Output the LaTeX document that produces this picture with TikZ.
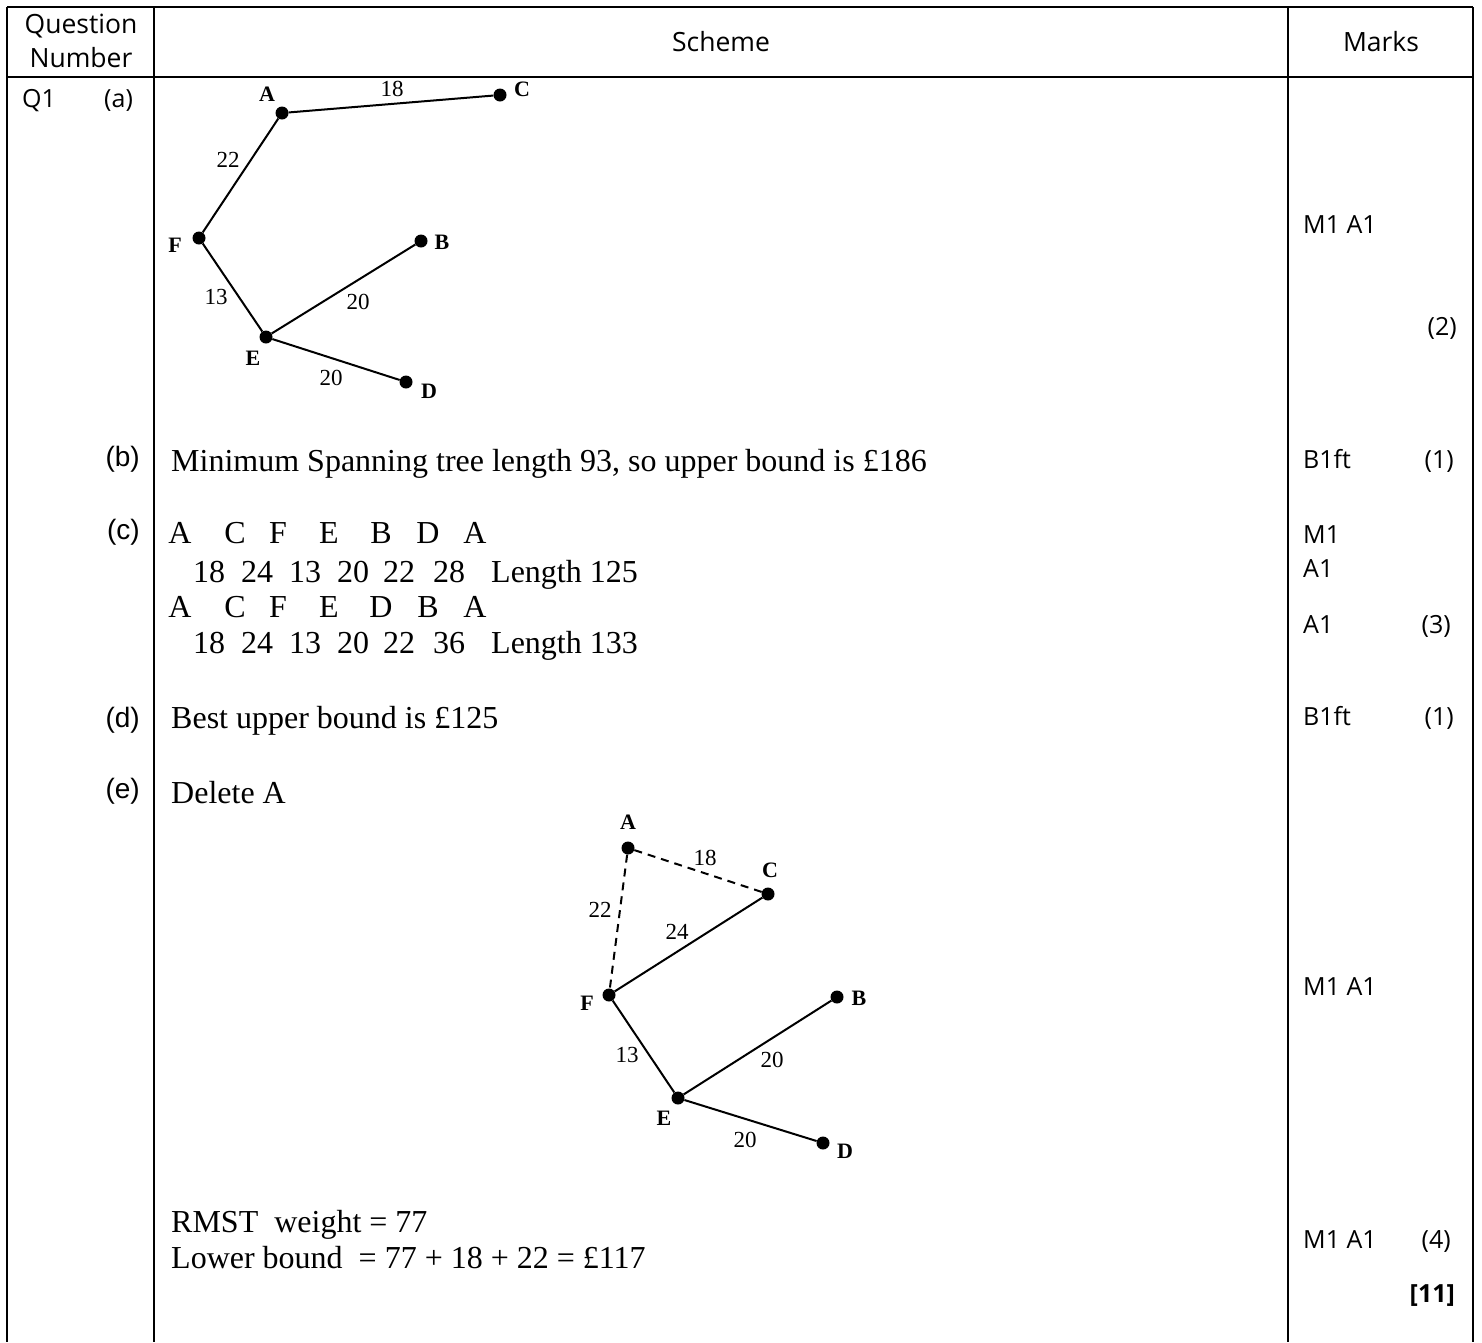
\documentclass[tikz,border=0pt]{standalone}
\usepackage{fontspec}
\setmainfont{Liberation Serif}
\newfontfamily\tahomaf{Open Sans}
\newfontfamily\arialf{Liberation Sans}
\usetikzlibrary{positioning}

\begin{document}
\begin{tikzpicture}[x=1pt, y=-1pt,
  rule/.style={line width=2.5pt},
  hdr/.style={font=\tahomaf\fontsize{26.5}{34}\selectfont, align=center, inner sep=0pt},
  mk/.style={font=\tahomaf\fontsize{25}{30}\selectfont, anchor=base west, inner sep=0pt},
  tot/.style={font=\tahomaf\fontsize{25}{30}\selectfont, anchor=base east, inner sep=0pt},
  part/.style={font=\arialf\fontsize{28}{30}\selectfont, anchor=base east, inner sep=0pt},
  txt/.style={font=\fontsize{32}{34}\selectfont, anchor=base west, inner sep=0pt},
  vtx/.style={circle, fill=black, inner sep=0pt, minimum size=13pt},
  vlab/.style={font=\bfseries\fontsize{22}{22}\selectfont, inner sep=0pt},
  wt/.style={font=\fontsize{23}{24}\selectfont, inner sep=0pt},
  edge/.style={line width=2pt},
]
  \useasboundingbox (0,0) rectangle (1482,1342);

  % table rules
  \draw[rule] (7,7) -- (1473,7);
  \draw[rule] (7,77) -- (1473,77);
  \draw[rule] (7,7) -- (7,1342);
  \draw[rule] (154,7) -- (154,1342);
  \draw[rule] (1288,7) -- (1288,1342);
  \draw[rule] (1473,7) -- (1473,1342);

  % header
  \node[hdr] (hq) at (81,41) {Question\\Number};
  \node[hdr] (hs) at (721,42) {Scheme};
  \node[hdr] (hm) at (1381,42) {Marks};

  % part labels
  \node[mk] (q1) at (22,107) {Q1};
  \node[mk] (pa) at (104,107) {(a)};
  \node[part] (pb) at (140,466) {(b)};
  \node[part] (pc) at (140,539) {(c)};
  \node[part] (pd) at (140,727) {(d)};
  \node[part] (pe) at (140,798) {(e)};

  % (a) minimum spanning tree
  \node[vtx] (A1) at (282,113) {};
  \node[vtx] (C1) at (500,95) {};
  \node[vtx] (F1) at (199,238) {};
  \node[vtx] (B1) at (421,241) {};
  \node[vtx] (E1) at (266,337) {};
  \node[vtx] (D1) at (406,382) {};
  \draw[edge] (A1) -- (C1) (A1) -- (F1) (F1) -- (E1) (E1) -- (B1) (E1) -- (D1);
  \node[vlab] (lA1) at (267,94) {A};
  \node[vlab] (lC1) at (522,89) {C};
  \node[vlab] (lF1) at (175,245) {F};
  \node[vlab] (lB1) at (442,242) {B};
  \node[vlab] (lE1) at (253,358) {E};
  \node[vlab] (lD1) at (429,391) {D};
  \node[wt] (w1ac) at (392,89) {18};
  \node[wt] (w1af) at (228,160) {22};
  \node[wt] (w1fe) at (216,297) {13};
  \node[wt] (w1eb) at (358,302) {20};
  \node[wt] (w1ed) at (331,378) {20};

  \node[mk] (m1) at (1303,233) {M1 A1};
  \node[tot] (t1) at (1457,335) {(2)};

  % (b)
  \node[txt] (sb) at (171,471) {Minimum Spanning tree length 93, so upper bound is \pounds186};
  \node[mk] (m2) at (1303,468) {B1ft};
  \node[tot] (t2) at (1454,468) {(1)};

  % (c) nearest neighbour tours
  \foreach \v/\xx [count=\i] in {A/180,C/235,F/278,E/329,B/381,D/428,A/475}
    \node[txt, anchor=base] (ta\i) at (\xx,543) {\v};
  \foreach \w/\xx [count=\i] in {18/209,24/257,13/305,20/353,22/399,28/449}
    \node[txt, anchor=base] (wa\i) at (\xx,582) {\w};
  \node[txt] (la) at (491,582) {Length 125};
  \foreach \v/\xx [count=\i] in {A/180,C/235,F/278,E/329,D/381,B/428,A/475}
    \node[txt, anchor=base] (tb\i) at (\xx,617) {\v};
  \foreach \w/\xx [count=\i] in {18/209,24/257,13/305,20/353,22/399,36/449}
    \node[txt, anchor=base] (wb\i) at (\xx,653) {\w};
  \node[txt] (lb) at (491,653) {Length 133};
  \node[mk] (m3) at (1303,543) {M1};
  \node[mk] (m4) at (1303,577) {A1};
  \node[mk] (m5) at (1303,633) {A1};
  \node[tot] (t3) at (1451,633) {(3)};

  % (d)
  \node[txt] (sd) at (171,728) {Best upper bound is \pounds125};
  \node[mk] (m6) at (1303,725) {B1ft};
  \node[tot] (t4) at (1454,725) {(1)};

  % (e) residual tree
  \node[txt] (se) at (171,803) {Delete A};
  \node[vtx] (A2) at (628,848) {};
  \node[vtx] (C2) at (768,894) {};
  \node[vtx] (F2) at (609,995) {};
  \node[vtx] (B2) at (837,997) {};
  \node[vtx] (E2) at (678,1098) {};
  \node[vtx] (D2) at (823,1143) {};
  \draw[edge, dash pattern=on 8pt off 6pt] (A2) -- (C2) (A2) -- (F2);
  \draw[edge] (C2) -- (F2) (F2) -- (E2) (E2) -- (B2) (E2) -- (D2);
  \node[vlab] (lA2) at (628,822) {A};
  \node[vlab] (lC2) at (770,870) {C};
  \node[vlab] (lF2) at (587,1003) {F};
  \node[vlab] (lB2) at (859,998) {B};
  \node[vlab] (lE2) at (664,1118) {E};
  \node[vlab] (lD2) at (845,1151) {D};
  \node[wt] (w2ac) at (705,858) {18};
  \node[wt] (w2af) at (600,910) {22};
  \node[wt] (w2cf) at (677,932) {24};
  \node[wt] (w2fe) at (627,1055) {13};
  \node[wt] (w2eb) at (772,1060) {20};
  \node[wt] (w2ed) at (745,1140) {20};
  \node[mk] (m7) at (1303,995) {M1 A1};

  \node[txt] (sr) at (171,1232) {RMST\ \ weight = 77};
  \node[txt] (sl) at (171,1268) {Lower bound\ \ = 77 + 18 + 22 = \pounds117};
  \node[mk] (m8) at (1303,1248) {M1 A1};
  \node[tot] (t5) at (1451,1248) {(4)};
  \node[tot, font=\tahomaf\bfseries\fontsize{25}{30}\selectfont] (t6) at (1455,1302) {[11]};
\end{tikzpicture}
\end{document}
